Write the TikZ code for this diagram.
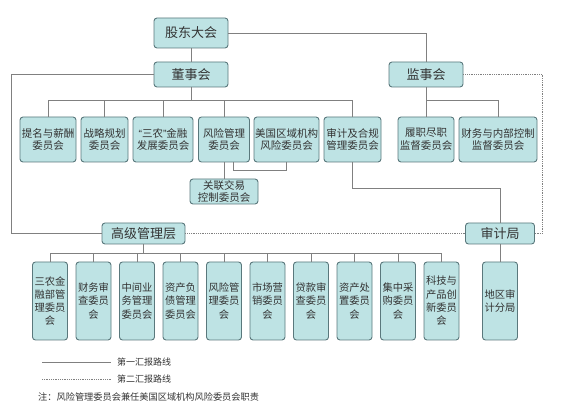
\documentclass[tikz,border=0pt]{standalone}
\usepackage{fontspec}
\setmainfont{Noto Sans CJK SC}
\newfontfamily\latinq{Liberation Sans}
\usetikzlibrary{calc}
\definecolor{boxfill}{HTML}{BEE3E4}
\definecolor{boxline}{HTML}{5A787C}
\definecolor{conn}{HTML}{808080}
\definecolor{txt}{HTML}{333333}
\begin{document}
\begin{tikzpicture}[x=1pt,y=-1pt,
  box/.style={draw=boxline,fill=boxfill,rounded corners=3pt,line width=0.9pt,text=txt,align=center,inner sep=0pt},
  big/.style={box,font=\fontsize{13}{15}\selectfont,minimum width=74pt},
  mid/.style={box,font=\fontsize{10.5}{12.7}\selectfont,minimum height=45pt},
  tall/.style={box,font=\fontsize{10.3}{13.3}\selectfont,minimum width=35pt,minimum height=78pt},
  ln/.style={draw=conn,line width=0.8pt},
  dl/.style={draw=conn,line width=0.8pt,densely dotted},
  legtext/.style={anchor=west,text=txt,inner sep=0pt,font=\fontsize{9}{10}\selectfont},
]
\useasboundingbox (0,0) rectangle (578,419);
% top level
\node[big,minimum height=30pt] (gd) at (191,33) {股东大会};
\node[big,minimum height=25pt] (dsh) at (191,74.5) {董事会};
\node[big,minimum height=25pt] (jsh) at (426,74.5) {监事会};
% board committees
\node[mid,minimum width=56pt] (c1) at (48,139.5) {提名与薪酬\\委员会};
\node[mid,minimum width=47pt] (c2) at (104.5,139.5) {战略规划\\委员会};
\node[mid,minimum width=60pt] (c3) at (163,139.5) {{\latinq “}三农{\latinq ”}金融\\发展委员会};
\node[mid,minimum width=51pt] (c4) at (224,139.5) {风险管理\\委员会};
\node[mid,minimum width=65pt] (c5) at (286.5,139.5) {美国区域机构\\风险委员会};
\node[mid,minimum width=57pt] (c6) at (352.5,139.5) {审计及合规\\管理委员会};
\node[mid,minimum width=56pt] (s1) at (426,139.5) {履职尽职\\监督委员会};
\node[mid,minimum width=78pt] (s2) at (498,139.5) {财务与内部控制\\监督委员会};
\node[box,font=\fontsize{10.5}{12.7}\selectfont,minimum width=68pt,minimum height=25pt] (gl) at (224,191.5) {关联交易\\控制委员会};
% management level
\node[big,minimum width=83pt,minimum height=21pt] (gj) at (143.5,233.5) {高级管理层};
\node[big,minimum width=69pt,minimum height=21pt] (sjj) at (500,233.5) {审计局};
% management committees
\node[tall] (r1) at (50,301) {三农金\\融部管\\理委员\\会};
\node[tall] (r2) at (93.5,301) {财务审\\查委员\\会};
\node[tall] (r3) at (137,301) {中间业\\务管理\\委员会};
\node[tall] (r4) at (180.5,301) {资产负\\债管理\\委员会};
\node[tall] (r5) at (224,301) {风险管\\理委员\\会};
\node[tall] (r6) at (267.5,301) {市场营\\销委员\\会};
\node[tall] (r7) at (311,301) {贷款审\\查委员\\会};
\node[tall] (r8) at (354.5,301) {资产处\\置委员\\会};
\node[tall] (r9) at (398,301) {集中采\\购委员\\会};
\node[tall] (r10) at (441.5,301) {科技与\\产品创\\新委员\\会};
\node[tall] (r11) at (500,301) {地区审\\计分局};
% connectors
\coordinate (bus1) at (191,100);
\coordinate (bus2) at (143.5,253);
\draw[ln] (gd.south) -- (dsh.north);
\draw[ln] (gd.east) -| (jsh.north);
\draw[ln] (dsh.west) -- ++(-142,0) |- (gj.west);
\draw[ln] (dsh.south) -- (bus1);
\draw[ln] (c1.north |- bus1) -- (c6.north |- bus1);
\foreach \c in {c1,c2,c3,c4,c6} \draw[ln] (\c.north) -- (\c.north |- bus1);
\draw[ln] (jsh.south) -- (s1.north);
\draw[ln] (jsh.south |- bus1) -| (s2.north);
\draw[ln] (c4.south) -- (gl.north);
\draw[ln] ([xshift=9pt]c4.south) -- ++(0,8) -| (c5.south);
\draw[ln] (c6.south) -- ++(0,26) -| (sjj.north);
\draw[ln] (sjj.south) -- (r11.north);
\draw[dl] (jsh.east) -- ++(79,0) |- (sjj.east);
\draw[dl] (gj.east) -- (sjj.west);
\draw[ln] (gj.south) -- (bus2);
\draw[ln] (r1.north |- bus2) -- (r10.north |- bus2);
\foreach \r in {r1,r2,r3,r4,r5,r6,r7,r8,r9,r10} \draw[ln] (\r.north) -- (\r.north |- bus2);
% legend
\node[legtext] (lg1) at (117,362) {第一汇报路线};
\node[legtext] (lg2) at (117,379) {第二汇报路线};
\draw[ln] ($(lg1.west)+(-75,0)$) -- ($(lg1.west)+(-6,0)$);
\draw[dl] ($(lg2.west)+(-75,0)$) -- ($(lg2.west)+(-6,0)$);
\node[legtext,font=\fontsize{9.2}{10}\selectfont] (note) at (38,397) {注：风险管理委员会兼任美国区域机构风险委员会职责};
\end{tikzpicture}
\end{document}
